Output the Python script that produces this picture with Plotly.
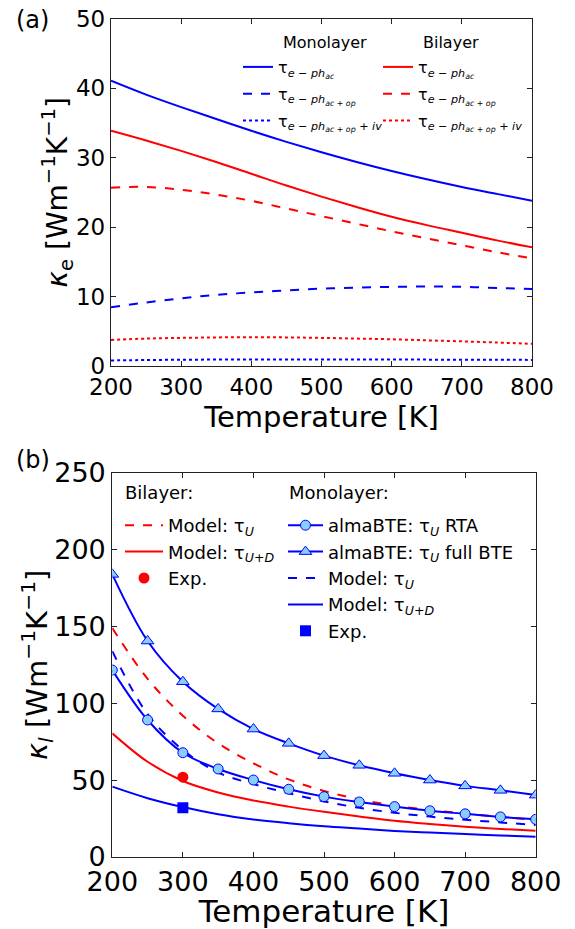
import plotly.graph_objects as go

# ---------------- data ----------------
T = [200, 250, 300, 350, 400, 450, 500, 550, 600, 650, 700, 750, 800]

# panel (a): electronic thermal conductivity
ke_mono_ac = [41.1, 39.1, 37.3, 35.6, 33.9, 32.3, 30.8, 29.4, 28.1, 26.9, 25.8, 24.8, 23.8]
ke_mono_acop = [8.45, 9.15, 9.75, 10.25, 10.6, 10.9, 11.15, 11.3, 11.4, 11.45, 11.4, 11.25, 11.1]
ke_mono_acopiv = [0.8, 0.86, 0.9, 0.93, 0.95, 0.95, 0.95, 0.94, 0.93, 0.92, 0.9, 0.89, 0.88]
ke_bi_ac = [33.9, 32.5, 31.0, 29.4, 27.7, 26.0, 24.4, 22.9, 21.5, 20.3, 19.2, 18.1, 17.1]
ke_bi_acop = [25.7, 25.8, 25.4, 24.7, 23.8, 22.7, 21.6, 20.5, 19.4, 18.4, 17.4, 16.4, 15.5]
ke_bi_acopiv = [3.75, 3.95, 4.05, 4.12, 4.15, 4.12, 4.05, 3.95, 3.85, 3.7, 3.55, 3.38, 3.2]

# panel (b): lattice thermal conductivity
kl_bi_U = [149, 116, 92, 74, 61, 50.5, 43, 37.5, 33.4, 30.6, 28.3, 26.1, 24.0]
kl_bi_UD = [80.5, 62, 49.5, 42, 36.8, 32.8, 29.4, 26.4, 23.6, 21.5, 19.7, 18.3, 17.1]
kl_mono_rta = [121.7, 89.2, 67.9, 57.3, 50.1, 44.1, 39.3, 35.8, 32.8, 30.1, 28.1, 26.1, 24.5]
kl_mono_full = [184, 140.6, 114.1, 96.4, 83.3, 74.0, 66.0, 59.7, 54.5, 50.1, 46.3, 43.4, 40.3]
kl_mono_U = [134, 93, 69.7, 55, 47.5, 41.5, 36.2, 32.0, 28.8, 26.3, 24.3, 22.5, 20.8]
kl_mono_UD = [45.8, 38.3, 32.5, 27.8, 24.4, 22.0, 20.0, 18.5, 17.0, 15.9, 14.9, 14.0, 13.2]
exp_T = [300]
exp_bi = [52]
exp_mono = [32]

x_ticks = [200, 300, 400, 500, 600, 700, 800]
ya_ticks = [0, 10, 20, 30, 40, 50]
yb_ticks = [0, 50, 100, 150, 200, 250]

BLUE = "#0000ff"
RED = "#ff0000"
LIGHT = "#87cefa"
FONT = "DejaVu Sans"

fig = go.Figure()

def tau_lbl(sub, extra=""):
    return "τ<sub><i>e − ph<sub>%s</sub>%s</i></sub>" % (sub, extra)

# ---- panel (a) ----
a_series = [
    (ke_mono_ac, BLUE, "solid", tau_lbl("ac"), "legend", 1),
    (ke_mono_acop, BLUE, "dash", tau_lbl("ac + op"), "legend", 2),
    (ke_mono_acopiv, BLUE, "dot", tau_lbl("ac + op", " + iv"), "legend", 3),
    (ke_bi_ac, RED, "solid", tau_lbl("ac"), "legend2", 1),
    (ke_bi_acop, RED, "dash", tau_lbl("ac + op"), "legend2", 2),
    (ke_bi_acopiv, RED, "dot", tau_lbl("ac + op", " + iv"), "legend2", 3),
]
for i, (vals, col, dash, name, lg, rank) in enumerate(a_series):
    fig.add_trace(go.Scatter(
        x=T, y=vals, mode="lines", name=name,
        line=dict(color=col, width=2, dash=dash, shape="spline"),
        xaxis="x", yaxis="y", legend=lg, legendrank=rank,
        legendgroup="a%d" % i,
    ))

# ---- panel (b) ----
b_lines = [
    (kl_bi_U, RED, "dash", "Model: τ<sub><i>U</i></sub>", "legend3", 1),
    (kl_bi_UD, RED, "solid", "Model: τ<sub><i>U+D</i></sub>", "legend3", 2),
    (kl_mono_U, BLUE, "dash", "Model: τ<sub><i>U</i></sub>", "legend4", 3),
    (kl_mono_UD, BLUE, "solid", "Model: τ<sub><i>U+D</i></sub>", "legend4", 4),
]
for i, (vals, col, dash, name, lg, rank) in enumerate(b_lines):
    fig.add_trace(go.Scatter(
        x=T, y=vals, mode="lines", name=name,
        line=dict(color=col, width=2, dash=dash, shape="spline"),
        xaxis="x2", yaxis="y2", legend=lg, legendrank=rank,
        legendgroup="b%d" % i,
    ))

fig.add_trace(go.Scatter(
    x=T, y=kl_mono_rta, mode="lines+markers",
    name="almaBTE: τ<sub><i>U</i></sub> RTA",
    line=dict(color=BLUE, width=2, shape="spline"),
    marker=dict(symbol="circle", size=10, color=LIGHT, line=dict(color=BLUE, width=1)),
    xaxis="x2", yaxis="y2", legend="legend4", legendrank=1, legendgroup="b10",
))
fig.add_trace(go.Scatter(
    x=T, y=kl_mono_full, mode="lines+markers",
    name="almaBTE: τ<sub><i>U</i></sub> full BTE",
    line=dict(color=BLUE, width=2, shape="spline"),
    marker=dict(symbol="triangle-up", size=11, color=LIGHT, line=dict(color=BLUE, width=1)),
    xaxis="x2", yaxis="y2", legend="legend4", legendrank=2, legendgroup="b11",
))
fig.add_trace(go.Scatter(
    x=exp_T, y=exp_bi, mode="markers", name="Exp.",
    marker=dict(symbol="circle", size=11, color=RED),
    xaxis="x2", yaxis="y2", legend="legend3", legendrank=3, legendgroup="b12",
))
fig.add_trace(go.Scatter(
    x=exp_T, y=exp_mono, mode="markers", name="Exp.",
    marker=dict(symbol="square", size=11, color=BLUE),
    xaxis="x2", yaxis="y2", legend="legend4", legendrank=5, legendgroup="b13",
))

W, H = 575, 929
def px(x):
    return x / W
def py(y):
    return 1 - y / H

axis_common = dict(
    showline=True, linecolor="#222", linewidth=1.3, mirror="ticks",
    ticks="inside", ticklen=5, tickwidth=1.2, tickcolor="#222",
    showgrid=False, zeroline=False, automargin=False,
)

def ann(text, x, y, size, xanchor="center", angle=0):
    return dict(text=text, x=px(x), y=py(y), xref="paper", yref="paper",
                xanchor=xanchor, yanchor="middle", showarrow=False,
                textangle=angle, font=dict(size=size))

fig.update_layout(
    width=W, height=H,
    margin=dict(l=0, r=0, t=0, b=0),
    paper_bgcolor="white", plot_bgcolor="white",
    font=dict(family=FONT, color="black"),
    xaxis=dict(domain=[px(111), px(532)], range=[200, 800], tickvals=x_ticks,
               anchor="y", tickfont=dict(size=23),
               title=dict(text="Temperature [K]", font=dict(size=29), standoff=6),
               **axis_common),
    yaxis=dict(domain=[py(366), py(19)], range=[0, 50], tickvals=ya_ticks,
               anchor="x", tickfont=dict(size=23), **axis_common),
    xaxis2=dict(domain=[px(112.3), px(535.7)], range=[200, 800], tickvals=x_ticks,
                anchor="y2", tickfont=dict(size=27),
                title=dict(text="Temperature [K]", font=dict(size=31), standoff=1),
                **axis_common),
    yaxis2=dict(domain=[py(857), py(473)], range=[0, 250], tickvals=yb_ticks,
                anchor="x2", tickfont=dict(size=27), **axis_common),
    legend=dict(x=px(238), y=py(50), xanchor="left", yanchor="top",
                bgcolor="rgba(0,0,0,0)", font=dict(size=16), tracegroupgap=3,
                itemwidth=30),
    legend2=dict(x=px(378), y=py(50), xanchor="left", yanchor="top",
                 bgcolor="rgba(0,0,0,0)", font=dict(size=16), tracegroupgap=3,
                 itemwidth=30),
    legend3=dict(x=px(120), y=py(507), xanchor="left", yanchor="top",
                 bgcolor="rgba(0,0,0,0)", font=dict(size=18), tracegroupgap=0,
                 itemwidth=38),
    legend4=dict(x=px(283), y=py(507), xanchor="left", yanchor="top",
                 bgcolor="rgba(0,0,0,0)", font=dict(size=18), tracegroupgap=0,
                 itemwidth=35),
    annotations=[
        ann("(a)", 32, 20, 24),
        ann("(b)", 33, 460, 24),
        ann("<i>κ</i><sub>e</sub> [Wm<sup>−1</sup>K<sup>−1</sup>]", 58, 192.5, 28, angle=-90),
        ann("<i>κ</i><sub><i>l</i></sub> [Wm<sup>−1</sup>K<sup>−1</sup>]", 37, 665, 29, angle=-90),
        ann("Monolayer", 281, 42, 16, xanchor="left"),
        ann("Bilayer", 421, 42, 16, xanchor="left"),
        ann("Bilayer:", 123, 493, 18, xanchor="left"),
        ann("Monolayer:", 287, 493, 18, xanchor="left"),
    ],
)

fig.write_html("out.html")
